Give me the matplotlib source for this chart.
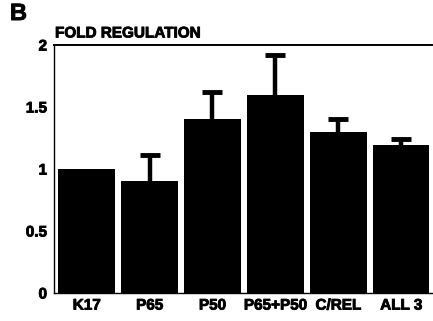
import matplotlib
matplotlib.use("Agg")
import matplotlib.pyplot as plt
import matplotlib.patheffects as pe
import numpy as np

plt.rcParams['font.family'] = ['Liberation Sans', 'DejaVu Sans']
plt.rcParams['font.weight'] = 'bold'

categories = ["K17", "P65", "P50", "P65+P50", "C/REL", "ALL 3"]
fold = [1.0, 0.90, 1.40, 1.60, 1.30, 1.19]
err_upper = [0.0, 0.21, 0.22, 0.32, 0.10, 0.055]
yticks = [0, 0.5, 1, 1.5, 2]
ytick_labels = ["0", "0.5", "1", "1.5", "2"]

heavy = [pe.withStroke(linewidth=0.6, foreground="black")]

fig = plt.figure(figsize=(4.33, 3.21), dpi=100)
ax = fig.add_axes([0.1247, 0.0872, 0.873, 0.7726])

x = np.arange(len(categories))
ax.bar(x, fold, width=0.9, color="black", zorder=2)

# upper-only error bars
mask = np.array(err_upper) > 0
xe = x[mask]
ye = np.array(fold)[mask]
ee = np.array(err_upper)[mask]
_, caps, _ = ax.errorbar(xe, ye, yerr=[np.zeros_like(ee), ee], fmt="none",
                         ecolor="black", elinewidth=3.2, capsize=7.5,
                         capthick=3.5, zorder=3)
caps[0].set_visible(False)

ax.set_xlim(-0.52, 5.49)
ax.set_ylim(0, 2)
ax.set_yticks(yticks)
ax.set_yticklabels(ytick_labels, fontsize=11, fontweight="bold")
ax.set_xticks(x)
ax.set_xticklabels(categories, fontsize=11, fontweight="bold")
ax.tick_params(axis="y", length=0, pad=5)
ax.tick_params(axis="x", length=0, pad=4)
for lbl in ax.get_xticklabels() + ax.get_yticklabels():
    lbl.set_path_effects(heavy)

ax.spines["right"].set_visible(False)
for s in ["left", "bottom"]:
    ax.spines[s].set_linewidth(1.0)
ax.spines["top"].set_linewidth(1.4)

fig.text(0.127, 0.874, "FOLD REGULATION", fontsize=11, fontweight="bold",
         ha="left", va="bottom", path_effects=heavy)
fig.text(0.023, 0.922, "B", fontsize=17, fontweight="bold", ha="left",
         va="bottom", path_effects=heavy)

fig.savefig("out.png", dpi=100)
